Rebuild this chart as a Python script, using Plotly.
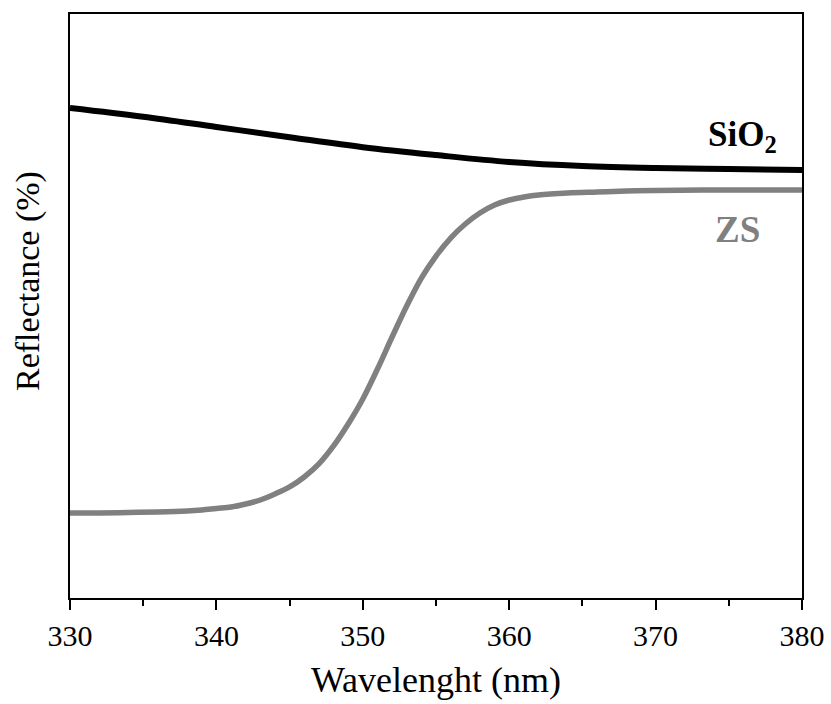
import plotly.graph_objects as go

# Wavelength (nm) and reflectance (arbitrary %)
sio2_wl = [330, 335, 340, 345, 350, 355, 360, 365, 370, 375, 380]
sio2_r = [83.9, 82.4, 80.65, 78.9, 77.2, 75.85, 74.66, 73.97, 73.63, 73.46, 73.29]

zs_wl = [330, 332, 334, 336, 338, 339, 340, 341, 342, 343, 344, 345, 346, 347, 348,
         349, 350, 351, 352, 353, 354, 355, 356, 357, 358, 359, 360, 361, 362, 364,
         366, 368, 370, 375, 380]
zs_r = [14.55, 14.55, 14.64, 14.73, 14.90, 15.07, 15.33, 15.58, 16.10, 16.78, 17.81,
        19.01, 20.72, 22.95, 26.03, 29.79, 34.08, 39.21, 44.69, 50.0, 54.79, 58.56,
        61.64, 64.04, 65.92, 67.29, 68.15, 68.66, 69.01, 69.35, 69.52, 69.69, 69.78,
        69.86, 69.86]

x_ticks = [330, 340, 350, 360, 370, 380]

FONT = "Liberation Serif"

fig = go.Figure()
fig.add_trace(go.Scatter(x=sio2_wl, y=sio2_r, mode="lines",
                         line=dict(color="black", width=6, shape="spline"),
                         showlegend=False))
fig.add_trace(go.Scatter(x=zs_wl, y=zs_r, mode="lines",
                         line=dict(color="#808080", width=5.5, shape="spline"),
                         showlegend=False))

fig.add_annotation(x=378.4, y=79.0, xref="x", yref="y", text="<b>SiO<sub>2</sub></b>",
                   showarrow=False, xanchor="right", yanchor="middle",
                   font=dict(family=FONT, size=35, color="black"))
fig.add_annotation(x=375.6, y=63.1, xref="x", yref="y", text="<b>ZS</b>",
                   showarrow=False, xanchor="center", yanchor="middle",
                   font=dict(family=FONT, size=37, color="#808080"))
# y-axis title
fig.add_annotation(x=-0.0574, y=0.5428, xref="paper", yref="paper",
                   text="Reflectance (%)", textangle=-90, showarrow=False,
                   xanchor="center", yanchor="middle",
                   font=dict(family=FONT, size=34, color="black"))

fig.update_layout(
    width=831, height=704,
    margin=dict(l=70, r=29, t=14, b=106),
    paper_bgcolor="white", plot_bgcolor="white",
    font=dict(family=FONT, color="black"),
    xaxis=dict(
        range=[330, 380], tickvals=x_ticks, ticktext=[str(v) for v in x_ticks],
        ticks="outside", ticklen=10, tickwidth=2, tickcolor="black",
        minor=dict(dtick=5, ticks="outside", ticklen=6, tickwidth=2, tickcolor="black"),
        showline=True, linewidth=2, linecolor="black", mirror=True,
        showgrid=False, zeroline=False, automargin=False,
        tickfont=dict(family=FONT, size=30, color="black"),
        title=dict(text="Wavelenght (nm)", font=dict(family=FONT, size=36, color="black"),
                   standoff=16),
    ),
    yaxis=dict(
        range=[0, 100], showticklabels=False, ticks="",
        showline=True, linewidth=2, linecolor="black", mirror=True,
        showgrid=False, zeroline=False, automargin=False,
    ),
)

fig.write_html("out.html")
